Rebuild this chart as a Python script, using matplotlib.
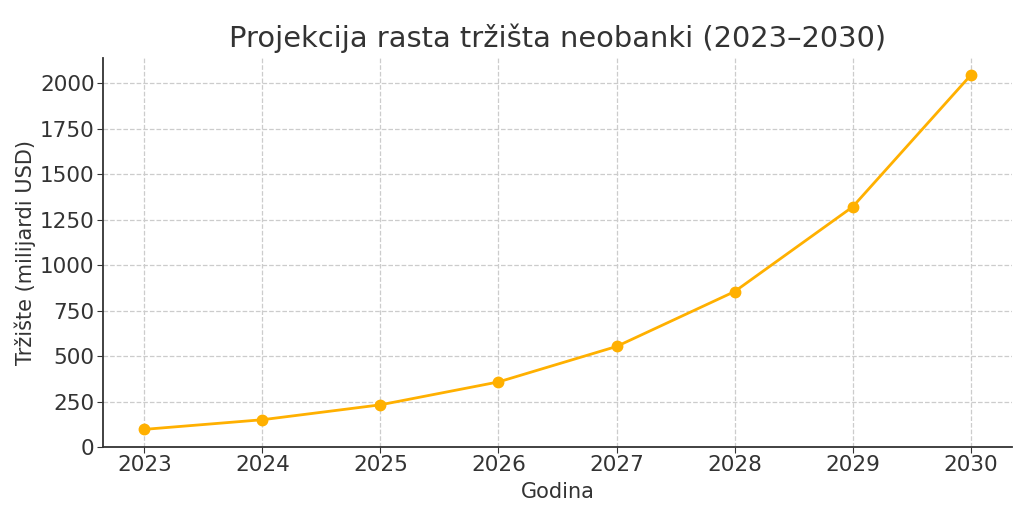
import matplotlib
matplotlib.use("Agg")
import matplotlib.pyplot as plt

years = [2023, 2024, 2025, 2026, 2027, 2028, 2029, 2030]
market = [97, 150, 232, 358, 553, 855, 1321, 2045]

text_col = "#333333"
plt.rcParams["font.family"] = "DejaVu Sans"

fig = plt.figure(figsize=(10.24, 5.28), dpi=100)
ax = fig.add_axes([103 / 1024, 1 - 447 / 528, 909 / 1024, 389 / 528])

ax.plot(years, market, color="#FFB000", lw=2, marker="o", markersize=7.5)

ax.set_title("Projekcija rasta tržišta neobanki (2023–2030)", fontsize=20.8, color=text_col, pad=8)
ax.set_xlabel("Godina", fontsize=15, color=text_col, labelpad=5)
ax.set_ylabel("Tržište (milijardi USD)", fontsize=15, color=text_col, labelpad=3)

ax.set_xticks(years)
ax.set_yticks(range(0, 2001, 250))
ax.set_xlim(2022.65, 2030.35)
ax.set_ylim(0, 2140)
ax.tick_params(labelsize=15.5, colors=text_col, length=4, pad=2)
ax.grid(True, linestyle="--", color="#cccccc", lw=0.9)

for s in ["top", "right"]:
    ax.spines[s].set_visible(False)
for s in ["left", "bottom"]:
    ax.spines[s].set_color(text_col)
    ax.spines[s].set_linewidth(1.3)

fig.savefig("out.png", dpi=100)
